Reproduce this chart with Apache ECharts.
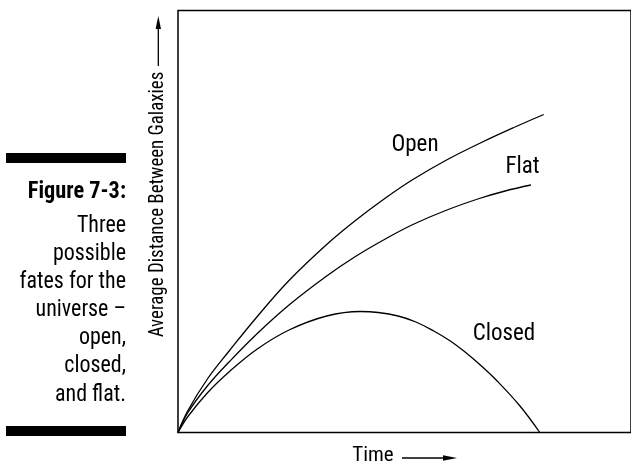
<!DOCTYPE html>
<html>
<head>
<meta charset="utf-8">
<script src="https://cdn.jsdelivr.net/npm/echarts@6/dist/echarts.min.js"></script>
<style>
html,body{margin:0;padding:0;background:#fff;}
#chart{width:631px;height:465px;}
</style>
</head>
<body>
<div id="chart"></div>
<script>
// Data (arbitrary units: time, average distance between galaxies)
var openSeries = [[0,0],[10,22],[30,54],[52,82],[80,116],[112,152],[150,188],[179,212],[210,235],[237,253],[270,272],[304,289],[340,305.5],[369,318]];
var flatSeries = [[0,0],[10,20],[30,47],[52,71],[80,99],[112,127.5],[150,156.5],[179,176],[210,194],[237,208],[270,222],[304,234],[330,241.5],[356,247.5]];
var closedSeries = [[0,0],[10,16],[30,40],[52,61],[80,83.5],[112,102.5],[150,116.5],[184,121],[202,120],[222,116.5],[240,110.5],[258,101.5],[274,92],[289,81],[305,67.5],[322,51.5],[345,26.5],[365,0]];
var seriesNames = ['Open','Flat','Closed'];
var captionTitle = 'Figure 7-3:';
var captionLines = ['Three','possible','fates for the','universe \u2013','open,','closed,','and flat.'];
var xTitle = 'Time';
var yTitle = 'Average Distance Between Galaxies';

var FONT = '"Liberation Sans Narrow","Roboto Condensed","DejaVu Sans Condensed",sans-serif';
var chart = echarts.init(document.getElementById('chart'), null, {renderer:'canvas'});

function lineSeries(name, data){
  return {
    name:name, type:'line', data:data, smooth:0.4, symbol:'none',
    lineStyle:{color:'#000', width:1.3}, silent:true, animation:false
  };
}

var graphics = [];
// caption bars
graphics.push({type:'rect', shape:{x:6,y:153,width:120,height:10}, style:{fill:'#000'}});
graphics.push({type:'rect', shape:{x:6,y:426,width:120,height:10}, style:{fill:'#000'}});
graphics.push({type:'text', x:126, y:192, scaleX:0.97, style:{text:captionTitle, font:'bold 23px '+FONT, fill:'#000', align:'right', verticalAlign:'middle'}});
var baselines = [234,262,290.3,318.4,346.6,374.7,402.8];
captionLines.forEach(function(t,i){
  graphics.push({type:'text', x:126, y:baselines[i]-8, scaleX:0.955, style:{text:t, font:'23px '+FONT, fill:'#000', align:'right', verticalAlign:'middle'}});
});
// y axis title rotated
graphics.push({type:'text', x:158, y:204.5, rotation:Math.PI/2, scaleX:0.9, style:{text:yTitle, font:'21px '+FONT, fill:'#000', align:'center', verticalAlign:'middle'}});
graphics.push({type:'line', shape:{x1:158.3,y1:66,x2:158.3,y2:26}, style:{stroke:'#000', lineWidth:1.3}});
graphics.push({type:'polygon', shape:{points:[[158.3,16],[155.6,29],[161,29]]}, style:{fill:'#000'}});
// x axis title
graphics.push({type:'text', x:373, y:456, style:{text:xTitle, font:'21px '+FONT, fill:'#000', align:'center', verticalAlign:'middle'}});
graphics.push({type:'line', shape:{x1:402,y1:458,x2:446,y2:458}, style:{stroke:'#000', lineWidth:1.3}});
graphics.push({type:'polygon', shape:{points:[[457,458],[443,455.3],[443,460.7]]}, style:{fill:'#000'}});
// curve labels
graphics.push({type:'text', x:415, y:145, style:{text:seriesNames[0], font:'23px '+FONT, fill:'#000', align:'center', verticalAlign:'middle'}});
graphics.push({type:'text', x:522.5, y:167.5, style:{text:seriesNames[1], font:'23px '+FONT, fill:'#000', align:'center', verticalAlign:'middle'}});
graphics.push({type:'text', x:504, y:334.5, style:{text:seriesNames[2], font:'23px '+FONT, fill:'#000', align:'center', verticalAlign:'middle'}});

chart.setOption({
  animation:false,
  backgroundColor:'#fff',
  grid:{left:178, top:10.5, right:-4, bottom:32.5, show:true, borderColor:'#000', borderWidth:1.5, backgroundColor:'transparent'},
  xAxis:{type:'value', min:0, max:457, axisLine:{show:false}, axisTick:{show:false}, axisLabel:{show:false}, splitLine:{show:false}},
  yAxis:{type:'value', min:0, max:422, axisLine:{show:false}, axisTick:{show:false}, axisLabel:{show:false}, splitLine:{show:false}},
  series:[lineSeries(seriesNames[0], openSeries), lineSeries(seriesNames[1], flatSeries), lineSeries(seriesNames[2], closedSeries)],
  graphic:graphics
});
</script>
</body>
</html>
